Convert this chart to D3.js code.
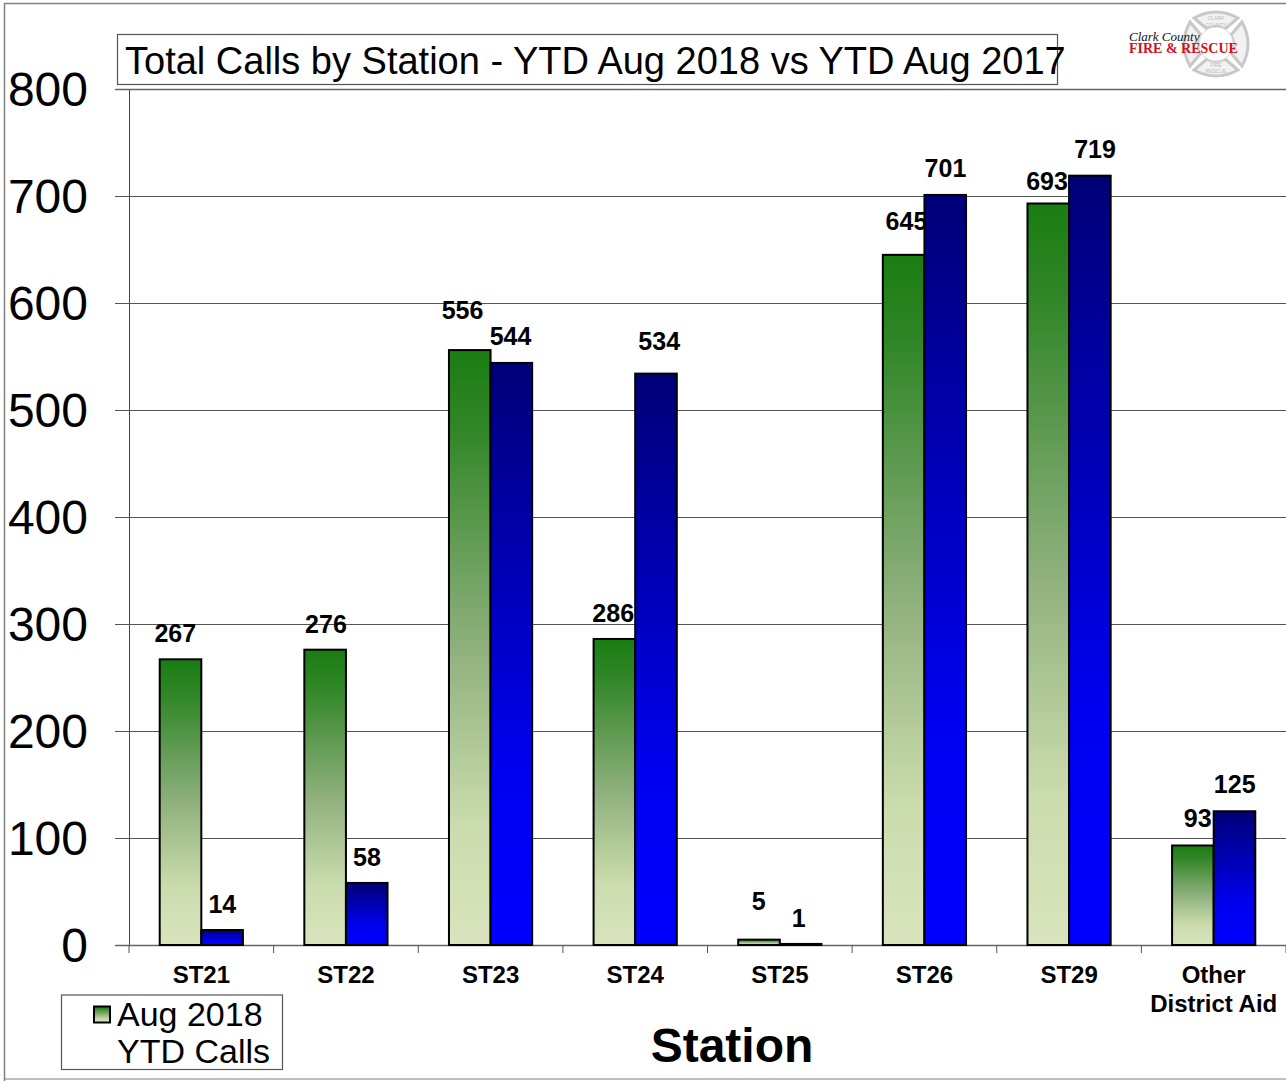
<!DOCTYPE html>
<html><head><meta charset="utf-8">
<style>html,body{margin:0;padding:0;background:#fff}svg{display:block}text{font-family:"Liberation Sans",Arial,sans-serif}</style>
<script src="https://cdn.jsdelivr.net/npm/d3@7"></script></head><body>
<script>
const categories=["ST21","ST22","ST23","ST24","ST25","ST26","ST29","Other|District Aid"];
const aug2018=[267,276,556,286,5,645,693,93];
const aug2017=[14,58,544,534,1,701,719,125];
const yTicks=[0,100,200,300,400,500,600,700,800];
const chartTitle="Total Calls by Station - YTD Aug 2018 vs YTD Aug 2017";
const xTitle="Station";
const legendLines=["Aug 2018","YTD Calls"];

const W=1286,H=1082;
const svg=d3.select("body").append("svg").attr("width",W).attr("height",H);
const defs=svg.append("defs");
const gGreen=defs.append("linearGradient").attr("id","gGreen").attr("x1",0).attr("y1",0).attr("x2",0).attr("y2",1);
[[0,"#1a7d12"],[.12,"#2f8526"],[.5,"#8fb07d"],[.8,"#cbdcae"],[1,"#d9e4bc"]].forEach(d=>gGreen.append("stop").attr("offset",d[0]).attr("stop-color",d[1]));
const gBlue=defs.append("linearGradient").attr("id","gBlue").attr("x1",0).attr("y1",0).attr("x2",0).attr("y2",1);
[[0,"#000078"],[.7,"#0000f0"],[1,"#0000ff"]].forEach(d=>gBlue.append("stop").attr("offset",d[0]).attr("stop-color",d[1]));

const y=d3.scaleLinear().domain([0,800]).range([945,89]);
const x=d3.scaleBand().domain(categories).range([129,1286]).paddingInner(0).paddingOuter(0);
const barW=41.6;

// page frame
svg.append("path").attr("d",`M4.5,1081V3.5H${W}`).attr("fill","none").attr("stroke","#7f7f7f").attr("stroke-width",1.5);
svg.append("path").attr("d",`M4,1079H${W}`).attr("fill","none").attr("stroke","#7f7f7f").attr("stroke-width",1);

// grid + y axis
const grid=svg.append("g").attr("transform","translate(129,0)")
 .call(d3.axisLeft(y).tickValues(yTicks).tickSize(-1157).tickSizeOuter(0).tickPadding(0).tickFormat(""));
grid.select(".domain").attr("stroke","#444");
grid.selectAll("line").attr("stroke","#555").attr("x1",-14).attr("stroke-width",1);
grid.selectAll(".tick").filter(d=>d===800||d===0).select("line").attr("stroke","#666").attr("stroke-width",1.5);

svg.append("g").selectAll("text").data(yTicks).join("text")
 .attr("x",88).attr("y",d=>y(d)+17).attr("text-anchor","end").attr("font-size",48).attr("fill","#000").text(d=>d);

// x axis ticks
svg.append("g").selectAll("line").data(d3.range(9)).join("line")
 .attr("x1",i=>129+i*x.bandwidth()).attr("x2",i=>129+i*x.bandwidth())
 .attr("y1",945).attr("y2",953).attr("stroke","#555");

// bars
const cx=c=>x(c)+x.bandwidth()/2;
const groups=svg.append("g").selectAll("g").data(categories).join("g");
groups.append("rect").attr("x",c=>cx(c)-barW).attr("width",barW)
 .attr("y",(c,i)=>y(aug2018[i])).attr("height",(c,i)=>945-y(aug2018[i]))
 .attr("fill","url(#gGreen)").attr("stroke","#000").attr("stroke-width",2);
groups.append("rect").attr("x",c=>cx(c)).attr("width",barW)
 .attr("y",(c,i)=>y(aug2017[i])).attr("height",(c,i)=>945-y(aug2017[i]))
 .attr("fill","url(#gBlue)").attr("stroke","#000").attr("stroke-width",2);

// data labels
const lblOff18=[[-26,-17],[-20,-17],[-28,-31],[-22,-17],[-21,-30],[-18,-25],[-22,-13],[-16,-18]];
const lblOff17=[[21,-17],[21,-17],[20,-18],[24,-24],[19,-17],[21,-18],[26,-18],[21,-18]];
const lbl=(c,i,v,o)=>cx(c)+o[i][0];
groups.append("text").attr("x",(c,i)=>lbl(c,i,aug2018,lblOff18)).attr("y",(c,i)=>y(aug2018[i])+lblOff18[i][1]+0)
 .attr("text-anchor","middle").attr("font-size",25).attr("font-weight","bold").text((c,i)=>aug2018[i]);
groups.append("text").attr("x",(c,i)=>lbl(c,i,aug2017,lblOff17)).attr("y",(c,i)=>y(aug2017[i])+lblOff17[i][1])
 .attr("text-anchor","middle").attr("font-size",25).attr("font-weight","bold").text((c,i)=>aug2017[i]);

// category labels
groups.append("g").each(function(c){
  const g=d3.select(this);
  c.split("|").forEach((t,k)=>g.append("text").attr("x",cx(c)).attr("y",983+k*29)
   .attr("text-anchor","middle").attr("font-size",24).attr("font-weight","bold").text(t));
});

// title
svg.append("rect").attr("x",117.5).attr("y",34.5).attr("width",940).attr("height",50).attr("fill","#fff").attr("stroke","#555").attr("stroke-width",1.2);
svg.append("text").attr("x",125).attr("y",74).attr("font-size",38).attr("fill","#000").text(chartTitle);

// axis title
svg.append("text").attr("x",732).attr("y",1062).attr("text-anchor","middle").attr("font-size",48).attr("font-weight","bold").text(xTitle);

// legend
svg.append("rect").attr("x",61.5).attr("y",995).attr("width",221).attr("height",74.5).attr("fill","#fff").attr("stroke","#555").attr("stroke-width",1.2);
svg.append("rect").attr("x",94).attr("y",1006.5).attr("width",16).attr("height",16).attr("fill","url(#gGreen)").attr("stroke","#000").attr("stroke-width",2);
legendLines.forEach((t,i)=>svg.append("text").attr("x",117).attr("y",1026+i*37).attr("font-size",34).text(t));

// logo
const logo=svg.append("g").attr("transform","translate(1216,44)");
const arm="M-9,-15 L-22,-26 Q0,-38 22,-26 L9,-15 Q0,-20 -9,-15 Z";
[0,90,180,270].forEach(a=>logo.append("path").attr("d",arm).attr("transform",`rotate(${a})`).attr("fill","#f2f2f2").attr("stroke","#c8c8c8").attr("stroke-width",3));
logo.append("circle").attr("r",17).attr("fill","#fff").attr("stroke","#dcdcdc").attr("stroke-width",1);
[["CLARK",-24],["COUNTY",-17],["FIRE",23],["RESCUE",29]].forEach(d=>logo.append("text").attr("x",0).attr("y",d[1]).attr("text-anchor","middle").attr("font-size",5).attr("fill","#bbb").text(d[0]));
svg.append("text").attr("x",1129).attr("y",41).attr("font-size",13).attr("font-style","italic").style("font-family","Liberation Serif").attr("fill","#111").text("Clark County");
svg.append("text").attr("x",1129).attr("y",53).attr("font-size",14).attr("font-weight","bold").style("font-family","Liberation Serif").attr("fill","#d0101c").text("FIRE & RESCUE");
</script></body></html>
